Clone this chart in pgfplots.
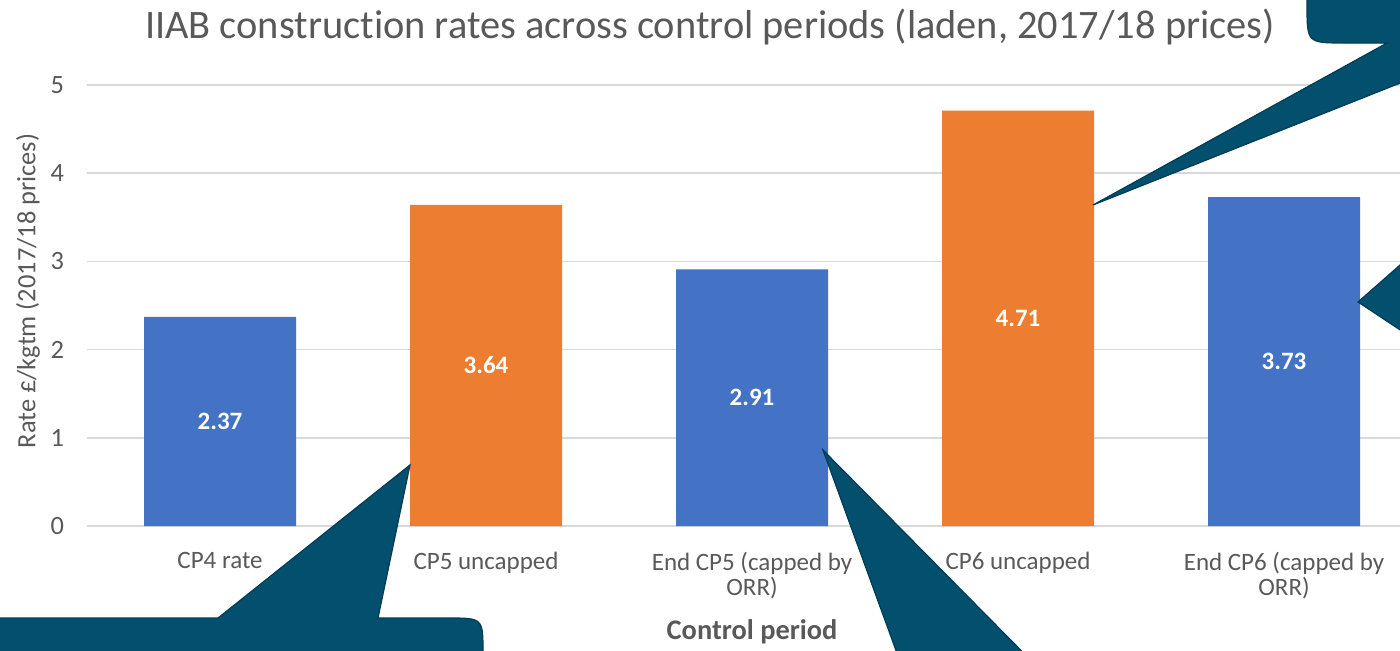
\documentclass[border=0pt]{standalone}
\usepackage{pgfplots}
\pgfplotsset{compat=1.18}
\usepackage{fontspec}
\setmainfont{Carlito}[Ligatures={NoCommon}]
\definecolor{cblue}{HTML}{4472C4}
\definecolor{corange}{HTML}{ED7D31}
\definecolor{txt}{HTML}{595959}
\definecolor{gridc}{HTML}{D9D9D9}
\definecolor{callout}{HTML}{02506E}
\definecolor{calloutb}{HTML}{013C54}
\begin{document}
\begin{tikzpicture}
\useasboundingbox (0,0) rectangle (700pt,325pt);
\clip (0,0) rectangle (700pt,325pt);
\begin{axis}[
  at={(43.5pt,62pt)}, anchor=south west,
  scale only axis, width=656.5pt, height=220.5pt,
  xmin=-0.5, xmax=4.436, ymin=0, ymax=5,
  ytick={0,1,2,3,4,5},
  xtick={0,1,2,3,4},
  xticklabels={CP4 rate, CP5 uncapped, {End CP5 (capped by\\ORR)}, CP6 uncapped, {End CP6 (capped by\\ORR)}},
  xticklabel style={font=\fontsize{12.5}{12.5}\selectfont, text=txt, align=center, anchor=north, yshift=-9.5pt},
  yticklabel style={font=\fontsize{13.2}{13.2}\selectfont, text=txt, xshift=-8pt},
  /pgf/number format/assume math mode=true,
  major tick length=0pt,
  axis line style={draw=none},
  axis x line*=bottom,
  ymajorgrids, grid style={gridc, line width=0.8pt},
  ybar, bar width=76pt,
  title={IIAB construction rates across control periods (laden, 2017/18 prices)},
  title style={font=\fontsize{20.2}{20.2}\selectfont, text=txt, at={(rel axis cs:0.4745,1.079)}, anchor=base},
  xlabel={\textbf{Control period}},
  xlabel style={font=\fontsize{14.2}{14.2}\selectfont, text=txt, at={(rel axis cs:0.5065,-0.240)}, anchor=center},
  ylabel={Rate £/kgtm (2017/18 prices)},
  ylabel style={font=\fontsize{13.2}{13.2}\selectfont, text=txt, at={(rel axis cs:-0.0449,0.533)}, anchor=center, rotate=0},
  visualization depends on=y \as \rawy,
  nodes near coords,
  nodes near coords style={font=\bfseries\fontsize{12.5}{12.5}\selectfont, text=white, anchor=center, yshift={-22.05pt*\rawy},
    /pgf/number format/.cd, fixed, fixed zerofill, precision=2},
]
\draw[gridc, line width=0.8pt] (rel axis cs:0,0) -- (rel axis cs:1,0);
\addplot[fill=cblue, draw=none, bar shift=0pt] coordinates {(0,2.37) (2,2.91) (4,3.73)};
\addplot[fill=corange, draw=none, bar shift=0pt] coordinates {(1,3.64) (3,4.71)};
\end{axis}
\begin{scope}[shift={(0,325pt)}, x=0.5pt, y=-0.5pt, fill=callout, draw=calloutb, line width=0.6pt]
  % top-right callout
  \filldraw (1307,-100) -- (1307,5) .. controls (1307,43) .. (1345,43) -- (1387,43) -- (1093,205) -- (1501,43) -- (1600,43) -- (1600,-100) -- cycle;
  % right-middle callout
  \filldraw (1358,302) -- (1450,221) -- (1450,363) -- cycle;
  % bottom-left callout
  \filldraw (-100,618) -- (218,618) -- (410,465) -- (378,618) -- (448,618) .. controls (483,618) .. (483,653) -- (483,750) -- (-100,750) -- cycle;
  % bottom-middle callout
  \filldraw (823,450) -- (1070,700) -- (914,700) -- cycle;
\end{scope}
\end{tikzpicture}
\end{document}
